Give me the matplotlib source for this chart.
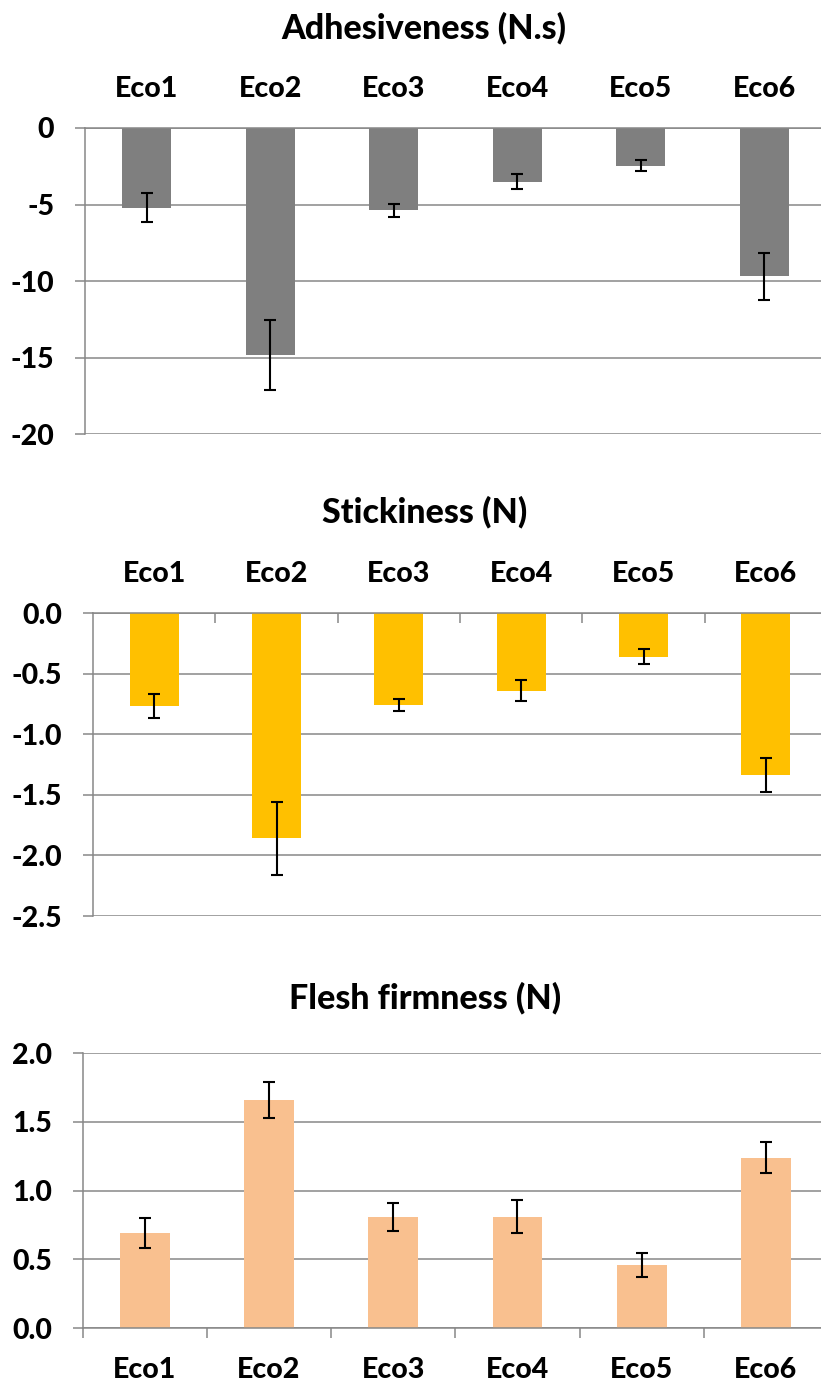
import matplotlib
matplotlib.use("Agg")
import matplotlib.pyplot as plt
from matplotlib.ticker import FixedLocator, FuncFormatter

plt.rcParams['font.family'] = ['Lato', 'DejaVu Sans']
plt.rcParams['font.weight'] = 'bold'
plt.rcParams['axes.unicode_minus'] = False

categories = ["Eco1", "Eco2", "Eco3", "Eco4", "Eco5", "Eco6"]

adhesiveness = [-5.2, -14.85, -5.38, -3.5, -2.46, -9.7]
adhesiveness_err = [0.95, 2.27, 0.42, 0.5, 0.38, 1.53]

stickiness = [-0.77, -1.86, -0.76, -0.64, -0.36, -1.34]
stickiness_err = [0.10, 0.30, 0.05, 0.09, 0.06, 0.14]

firmness = [0.69, 1.66, 0.81, 0.81, 0.46, 1.24]
firmness_err = [0.11, 0.13, 0.10, 0.12, 0.09, 0.11]

titles = ["Adhesiveness (N.s)", "Stickiness (N)", "Flesh firmness (N)"]

W, H = 821, 1383
fig = plt.figure(figsize=(W / 100, H / 100), dpi=100)

GRID = "#878787"
LW = 1.1
FS = 20.5
TFS = 24.5
WEIGHT = 'black'


def rect(left, right, top, bottom):
    return [left / W, 1 - bottom / H, (right - left) / W, (bottom - top) / H]


def style(ax, ymin, ymax, yticks, fmt):
    ax.set_xlim(-0.5, 5.5)
    ax.set_ylim(ymin, ymax)
    ax.set_yticks(yticks)
    ax.yaxis.set_major_formatter(FuncFormatter(lambda v, p: fmt.format(v)))
    ax.set_axisbelow(True)
    ax.grid(axis='y', color=GRID, linewidth=LW)
    for s in ['right', 'top', 'bottom']:
        ax.spines[s].set_visible(False)
    ax.spines['left'].set_color(GRID)
    ax.spines['left'].set_linewidth(LW)
    ax.tick_params(axis='y', length=7.2, width=LW, color=GRID, pad=15,
                   labelsize=FS)
    for t in ax.get_yticklabels():
        t.set_fontweight(WEIGHT)
    ax.set_xticks(range(len(categories)))
    ax.set_xticklabels(categories, fontsize=FS, fontweight=WEIGHT)


def bars(ax, vals, errs, color):
    x = list(range(len(categories)))
    ax.bar(x, vals, width=0.4, color=color, zorder=2)
    ax.errorbar(x, vals, yerr=errs, fmt='none', ecolor='black',
                elinewidth=1.5, capsize=4.3, capthick=1.5, zorder=3)


# Panel 1
ax1 = fig.add_axes(rect(85, 826, 128, 434))
bars(ax1, adhesiveness, adhesiveness_err, "#7F7F7F")
style(ax1, -20, 0, [0, -5, -10, -15, -20], "{:.0f}")
ax1.spines['top'].set_visible(True)
ax1.spines['top'].set_color(GRID)
ax1.spines['top'].set_linewidth(LW)
ax1.tick_params(axis='x', which='major', top=True, labeltop=True,
                bottom=False, labelbottom=False, length=0, pad=19)

# Panel 2
ax2 = fig.add_axes(rect(93, 827, 613, 916))
bars(ax2, stickiness, stickiness_err, "#FFC000")
style(ax2, -2.5, 0, [0, -0.5, -1.0, -1.5, -2.0, -2.5], "{:.1f}")
ax2.spines['top'].set_visible(True)
ax2.spines['top'].set_color(GRID)
ax2.spines['top'].set_linewidth(LW)
ax2.tick_params(axis='x', which='major', top=True, labeltop=True,
                bottom=False, labelbottom=False, length=0, pad=19)
ax2.xaxis.set_minor_locator(FixedLocator([0.5, 1.5, 2.5, 3.5, 4.5]))
ax2.tick_params(axis='x', which='minor', top=True, bottom=False,
                direction='in', length=7.2, width=LW, color=GRID)

# Panel 3
ax3 = fig.add_axes(rect(82.7, 828, 1053, 1328.3))
bars(ax3, firmness, firmness_err, "#F9C08F")
style(ax3, 0, 2.0, [0, 0.5, 1.0, 1.5, 2.0], "{:.1f}")
ax3.spines['bottom'].set_visible(True)
ax3.spines['bottom'].set_color(GRID)
ax3.spines['bottom'].set_linewidth(LW)
ax3.tick_params(axis='x', which='major', length=0, pad=21)
ax3.xaxis.set_minor_locator(FixedLocator([-0.5, 0.5, 1.5, 2.5, 3.5, 4.5, 5.5]))
ax3.tick_params(axis='x', which='minor', bottom=True, direction='out',
                length=7.2, width=LW, color=GRID)

# Titles
fig.text(424 / W, 1 - 28 / H, titles[0], ha='center', va='center',
         fontsize=TFS, fontweight=WEIGHT)
fig.text(425 / W, 1 - 512 / H, titles[1], ha='center', va='center',
         fontsize=TFS, fontweight=WEIGHT)
fig.text(425 / W, 1 - 998 / H, titles[2], ha='center', va='center',
         fontsize=TFS, fontweight=WEIGHT)

fig.savefig("out.png", dpi=100)
